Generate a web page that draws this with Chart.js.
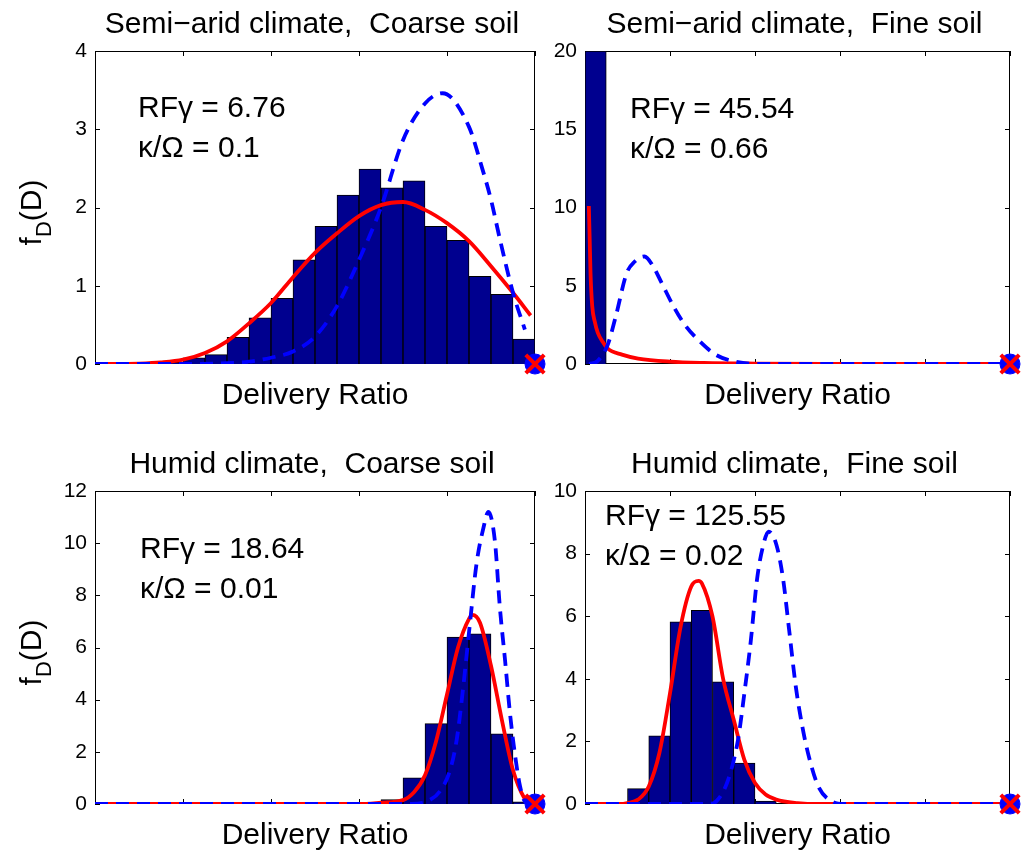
<!DOCTYPE html>
<html>
<head>
<meta charset="utf-8">
<script src="https://cdn.jsdelivr.net/npm/chart.js@4.4.0/dist/chart.umd.min.js"></script>
<style>
  html, body { margin: 0; padding: 0; background: #fff; }
  #wrap { position: relative; width: 1027px; height: 854px; overflow: hidden; }
  canvas { position: absolute; left: 0; top: 0; }
</style>
</head>
<body>
<div id="wrap">
  <canvas id="c1" width="1027" height="854"></canvas>
  <canvas id="c2" width="1027" height="854"></canvas>
  <canvas id="c3" width="1027" height="854"></canvas>
  <canvas id="c4" width="1027" height="854"></canvas>
</div>
<script>
// ---- data ----

// 20 histogram bins on the delivery ratio, bin centres
var binCenters = [0.025, 0.075, 0.125, 0.175, 0.225, 0.275, 0.325, 0.375, 0.425, 0.475,
                  0.525, 0.575, 0.625, 0.675, 0.725, 0.775, 0.825, 0.875, 0.925, 0.975];

var titles = ['Semi\u2212arid climate,  Coarse soil', 'Semi\u2212arid climate,  Fine soil',
              'Humid climate,  Coarse soil', 'Humid climate,  Fine soil'];
var rfGamma = ['6.76', '45.54', '18.64', '125.55'];
var kappaOmega = ['0.1', '0.66', '0.01', '0.02'];
var xLabel = 'Delivery Ratio';

var yMax = [4, 20, 12, 10];
var yStep = [1, 5, 2, 2];
var xStep = 0.2;

// point mass at D = 1
var endX = [1];
var endY = [0];

// semi-arid, coarse soil
var hist1 = [0, 0, 0, 0.02, 0.08, 0.12, 0.34, 0.59, 0.84, 1.33,
             1.76, 2.16, 2.49, 2.25, 2.34, 1.76, 1.58, 1.12, 0.89, 0.32];
var red1X = [0, 0.05, 0.1, 0.15, 0.2, 0.25, 0.3, 0.35, 0.4, 0.45, 0.5, 0.55, 0.6, 0.65, 0.7, 0.75, 0.8, 0.85, 0.9, 0.95, 0.99];
var red1Y = [0, 0, 0.005, 0.02, 0.055, 0.14, 0.29, 0.52, 0.78, 1.11, 1.42, 1.67, 1.89, 2.03, 2.07, 1.97, 1.8, 1.57, 1.25, 0.91, 0.62];
var blue1X = [0, 0.1, 0.2, 0.3, 0.35, 0.4, 0.45, 0.5, 0.55, 0.6, 0.65, 0.7, 0.75, 0.79, 0.85, 0.88, 0.9, 0.92, 0.95, 0.977];
var blue1Y = [0, 0, 0, 0.01, 0.03, 0.08, 0.16, 0.35, 0.74, 1.33, 2.0, 2.86, 3.33, 3.46, 3.03, 2.5, 2.1, 1.6, 0.91, 0.44];

// semi-arid, fine soil
var hist2 = [20, 0, 0, 0, 0, 0, 0, 0, 0, 0, 0, 0, 0, 0, 0, 0, 0, 0, 0, 0];
var red2X = [0.009, 0.011, 0.013, 0.017, 0.023, 0.03, 0.042, 0.053, 0.087, 0.125, 0.2, 0.28, 0.4, 0.6, 0.8, 1.0];
var red2Y = [10.1, 8.0, 5.8, 3.7, 2.7, 2.0, 1.4, 1.0, 0.6, 0.35, 0.15, 0.07, 0.03, 0.01, 0, 0];
var blue2X = [0.01, 0.03, 0.053, 0.072, 0.098, 0.117, 0.14, 0.159, 0.18, 0.208, 0.235, 0.27, 0.307, 0.35, 0.39, 0.5, 0.7, 1.0];
var blue2Y = [0, 0.2, 1.2, 3.0, 5.8, 6.55, 6.87, 6.3, 5.2, 3.7, 2.5, 1.45, 0.6, 0.17, 0.02, 0, 0, 0];

// humid, coarse soil
var hist3 = [0, 0, 0, 0, 0, 0, 0, 0, 0, 0,
             0, 0, 0, 0.17, 1.0, 3.08, 6.4, 6.52, 2.69, 0.08];
var red3X = [0, 0.6, 0.65, 0.7, 0.725, 0.75, 0.775, 0.8, 0.825, 0.85, 0.858, 0.875, 0.9, 0.925, 0.95, 0.975, 0.99];
var red3Y = [0, 0, 0.05, 0.15, 0.45, 1.1, 2.4, 4.2, 6.0, 7.1, 7.25, 6.95, 5.3, 3.2, 1.3, 0.25, 0.05];
var blue3X = [0, 0.72, 0.754, 0.784, 0.807, 0.822, 0.837, 0.852, 0.867, 0.883, 0.894, 0.909, 0.92, 0.932, 0.943, 0.955, 0.966, 0.977, 0.99];
var blue3Y = [0, 0, 0.1, 0.49, 1.3, 2.46, 4.5, 6.9, 9.2, 10.6, 11.2, 10.06, 7.57, 5.5, 3.5, 1.83, 0.68, 0.1, 0];

// humid, fine soil
var hist4 = [0, 0, 0.49, 2.18, 5.82, 6.19, 3.9, 1.31, 0.09, 0,
             0, 0, 0, 0, 0, 0, 0, 0, 0, 0];
var red4X = [0, 0.08, 0.1, 0.125, 0.15, 0.175, 0.2, 0.225, 0.25, 0.267, 0.275, 0.3, 0.325, 0.35, 0.375, 0.4, 0.425, 0.45, 0.5, 0.55, 1.0];
var red4Y = [0, 0, 0.03, 0.14, 0.56, 1.63, 3.54, 5.67, 6.95, 7.13, 7.05, 5.99, 4.0, 2.69, 1.41, 0.67, 0.3, 0.14, 0.03, 0, 0];
var blue4X = [0, 0.29, 0.31, 0.337, 0.36, 0.375, 0.39, 0.405, 0.42, 0.432, 0.45, 0.466, 0.48, 0.496, 0.511, 0.527, 0.549, 0.58, 0.61, 1.0];
var blue4Y = [0, 0, 0.1, 0.78, 2.05, 3.54, 5.2, 7.2, 8.3, 8.7, 8.3, 7.2, 5.6, 3.75, 2.5, 1.5, 0.56, 0.09, 0, 0];

// ---- layout ----
var W = 1027, H = 854;
var areas = [
  { left: 95,  top: 51,  right: 535,  bottom: 364 },
  { left: 585, top: 51,  right: 1025, bottom: 364 },
  { left: 95,  top: 491, right: 535,  bottom: 804 },
  { left: 585, top: 491, right: 1025, bottom: 804 }
];
// annotation offset from top-left of the plot box
var noteOffset = [[43, 66], [45, 67], [45, 67], [20, 34]];
var FONT = '"Liberation Sans", Arial, Helvetica, sans-serif';
var Y_AXIS_W = 40;

function pts(xs, ys) {
  return xs.map(function (x, k) { return { x: x, y: ys[k] }; });
}

var panelPlugin = {
  id: 'panel',
  beforeDatasetsDraw: function (chart, args, opts) {
    var ctx = chart.ctx, a = chart.chartArea;
    var xs = chart.scales.x, ys = chart.scales.y;
    ctx.save();
    ctx.strokeStyle = '#000';
    ctx.lineWidth = 1;
    ctx.strokeRect(a.left + 0.5, a.top + 0.5, a.right - a.left - 1, a.bottom - a.top - 1);
    ctx.beginPath();
    ys.ticks.forEach(function (t) {
      var y = Math.round(ys.getPixelForValue(t.value)) + 0.5;
      ctx.moveTo(a.left, y); ctx.lineTo(a.left + 5, y);
      ctx.moveTo(a.right, y); ctx.lineTo(a.right - 5, y);
    });
    xs.ticks.forEach(function (t) {
      var x = Math.round(xs.getPixelForValue(t.value)) + 0.5;
      ctx.moveTo(x, a.top); ctx.lineTo(x, a.top + 5);
      ctx.moveTo(x, a.bottom); ctx.lineTo(x, a.bottom - 5);
    });
    ctx.stroke();
    ctx.restore();
  },
  afterDraw: function (chart, args, opts) {
    var i = opts.index;
    var ctx = chart.ctx, a = chart.chartArea;
    var cx = (a.left + a.right) / 2;
    ctx.save();
    ctx.fillStyle = '#000';
    ctx.textBaseline = 'alphabetic';

    // title and x label
    ctx.font = '30px ' + FONT;
    ctx.textAlign = 'center';
    ctx.fillText(titles[i], cx - 3, a.top - 18);
    ctx.fillText(xLabel, cx, a.bottom + 40);

    // RF gamma and kappa/Omega
    ctx.textAlign = 'left';
    var nx = a.left + noteOffset[i][0], ny = a.top + noteOffset[i][1];
    ctx.fillText('RF\u03b3 = ' + rfGamma[i], nx, ny);
    ctx.fillText('\u03ba/\u03a9 = ' + kappaOmega[i], nx, ny + 40);

    // y label f_D(D), only on the left column
    if (i % 2 === 0) {
      var mainF = '30px ' + FONT, subF = '22px ' + FONT;
      ctx.font = mainF; var w1 = ctx.measureText('f').width, w3 = ctx.measureText('(D)').width;
      ctx.font = subF; var w2 = ctx.measureText('D').width;
      var total = w1 + w2 + w3;
      ctx.translate(41, (a.top + a.bottom) / 2 + 5);
      ctx.rotate(-Math.PI / 2);
      var sx = -total / 2;
      ctx.font = mainF; ctx.fillText('f', sx, 0);
      ctx.font = subF; ctx.fillText('D', sx + w1, 10);
      ctx.font = mainF; ctx.fillText('(D)', sx + w1 + w2, 0);
    }
    ctx.restore();
  }
};

function makePanel(i, hist, rx, ry, bx, by) {
  var a = areas[i];
  return new Chart(document.getElementById('c' + (i + 1)), {
    type: 'bar',
    data: {
      datasets: [
        { type: 'line', data: pts(endX, endY), showLine: false, pointStyle: 'crossRot',
          pointRadius: 13, pointBorderColor: '#ff0000', pointBackgroundColor: '#ff0000',
          pointBorderWidth: 4, clip: false, order: 0 },
        { type: 'line', data: pts(endX, endY), showLine: false, pointStyle: 'circle',
          pointRadius: 10, pointBorderColor: '#0000ff', pointBackgroundColor: '#0000ff',
          pointBorderWidth: 1, clip: false, order: 1 },
        { type: 'line', data: pts(bx, by), borderColor: '#0000ff', borderWidth: 3.8,
          borderDash: [13, 8], pointRadius: 0, fill: false,
          cubicInterpolationMode: 'monotone', order: 2 },
        { type: 'line', data: pts(rx, ry), borderColor: '#ff0000', borderWidth: 3.8,
          pointRadius: 0, fill: false, cubicInterpolationMode: 'monotone', order: 3 },
        { type: 'bar', data: pts(binCenters, hist), backgroundColor: '#00008f',
          borderColor: '#000000', borderWidth: 1, barPercentage: 1, categoryPercentage: 1,
          order: 4 }
      ]
    },
    options: {
      responsive: false,
      animation: false,
      devicePixelRatio: 1,
      events: [],
      layout: { padding: { left: a.left - Y_AXIS_W, top: a.top, right: W - a.right, bottom: H - a.bottom } },
      plugins: {
        legend: { display: false },
        tooltip: { enabled: false },
        panel: { index: i }
      },
      scales: {
        x: {
          type: 'linear', min: 0, max: 1, offset: false,
          grid: { display: false, drawTicks: false }, border: { display: false },
          ticks: { display: false, stepSize: xStep },
          afterFit: function (s) { s.height = 0; }
        },
        y: {
          type: 'linear', min: 0, max: yMax[i],
          grid: { display: false, drawTicks: false }, border: { display: false },
          ticks: { stepSize: yStep[i], color: '#000', padding: 8, font: { family: FONT, size: 21 } },
          afterFit: function (s) { s.width = Y_AXIS_W; }
        }
      }
    },
    plugins: [panelPlugin]
  });
}

makePanel(0, hist1, red1X, red1Y, blue1X, blue1Y);
makePanel(1, hist2, red2X, red2Y, blue2X, blue2Y);
makePanel(2, hist3, red3X, red3Y, blue3X, blue3Y);
makePanel(3, hist4, red4X, red4Y, blue4X, blue4Y);
</script>
</body>
</html>
